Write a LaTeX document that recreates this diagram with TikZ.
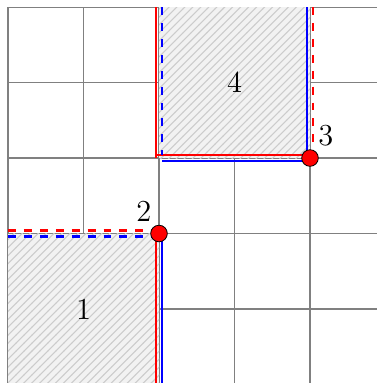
\documentclass[tikz,border=0pt]{standalone}
\usetikzlibrary{patterns}
\begin{document}
\begin{tikzpicture}[
  gridline/.style={gray, line width=0.4pt},
  region/.style={fill=gray!10, postaction={pattern=north east lines, pattern color=gray!40}},
  redline/.style={red, line width=0.85pt},
  blueline/.style={blue, line width=0.85pt},
  pt/.style={circle, fill=red, draw=black, line width=0.3pt, inner sep=0pt, minimum size=0.22cm},
  lab/.style={inner sep=0pt, font=\fontsize{11.5}{13}\selectfont}
]
\def\d{0.04}
\useasboundingbox (-0.106,0.02) rectangle (4.887,5.093);
\draw[gridline] (0,0) grid (5,5);
\fill[region] (0,0) rectangle (2,2);
\fill[region] (2,3) rectangle (4,5);
\node[lab] (n1) at (1,1) {1};
\node[lab] (n4) at (3,4) {4};
% region 1 boundary
\coordinate (a1) at (0,2+\d);
\coordinate (a2) at (2-\d,2+\d);
\coordinate (b1) at (0,2-\d);
\coordinate (b2) at (2-\d,2-\d);
\draw[redline,dashed] (a1) -- (a2);
\draw[blueline,dashed] (b1) -- (b2);
\coordinate (c1) at (2-\d,0);
\coordinate (c2) at (2-\d,2);
\coordinate (d1) at (2+\d,0);
\coordinate (d2) at (2+\d,2);
\draw[redline] (c1) -- (c2);
\draw[blueline] (d1) -- (d2);
% region 4 boundary
\coordinate (e1) at (2-\d,5);
\coordinate (e2) at (2-\d,3);
\coordinate (e3) at (2-\d,3+\d);
\coordinate (e4) at (4,3+\d);
\draw[redline] (e1) -- (e2);
\draw[redline] (e3) -- (e4);
\coordinate (f1) at (4+\d,5);
\coordinate (f2) at (4+\d,3);
\draw[redline,dashed] (f1) -- (f2);
\coordinate (g1) at (2+\d,5);
\coordinate (g2) at (2+\d,3+\d);
\draw[blueline,dashed] (g1) -- (g2);
\coordinate (h1) at (2+\d,3-\d);
\coordinate (h2) at (4-\d,3-\d);
\coordinate (h3) at (4-\d,5);
\draw[blueline] (h1) -- (h2) -- (h3);
% points
\node[pt] (p2) at (2,2) {};
\node[pt] (p3) at (4,3) {};
\node[lab] (l2) at (1.80,2.29) {2};
\node[lab] (l3) at (4.21,3.30) {3};
\end{tikzpicture}
\end{document}
